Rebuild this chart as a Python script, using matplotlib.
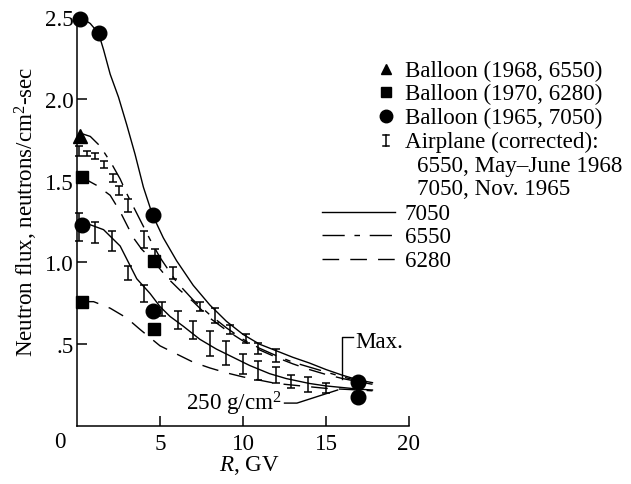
import matplotlib
matplotlib.use("Agg")
import matplotlib.pyplot as plt
from matplotlib.lines import Line2D

plt.rcParams['font.family'] = ['Liberation Serif', 'DejaVu Serif']
plt.rcParams['mathtext.fontset'] = 'custom'
plt.rcParams['mathtext.rm'] = 'Liberation Serif'
plt.rcParams['mathtext.it'] = 'Liberation Serif:italic'

# ---------------- data ----------------
# Curves: upper group = "Max.", lower group = 250 g/cm2
x7050_max = [0.2, 0.8, 1.3, 1.6, 2.0, 2.5, 3.0, 3.5, 4.0, 4.55, 5.2, 6.0, 7.0, 8.0, 9.0, 10.0, 11.0, 12.0, 13.0, 14.0, 15.0, 16.0, 17.0, 17.8]
y7050_max = [2.50, 2.46, 2.40, 2.30, 2.15, 2.01, 1.84, 1.66, 1.46, 1.29, 1.15, 1.01, 0.86, 0.74, 0.64, 0.56, 0.50, 0.46, 0.42, 0.385, 0.345, 0.31, 0.28, 0.265]

x6550_max = [0.2, 0.8, 1.4, 2.1, 2.6, 3.0, 3.7, 4.4, 5.0, 6.0, 7.0, 8.0, 9.0, 10.0, 11.0, 12.0, 13.0, 14.0, 15.0, 16.0, 17.0, 17.8]
y6550_max = [1.79, 1.77, 1.71, 1.60, 1.51, 1.42, 1.28, 1.14, 1.03, 0.88, 0.77, 0.68, 0.60, 0.53, 0.475, 0.43, 0.39, 0.36, 0.33, 0.30, 0.275, 0.26]

x6280_max = [0.3, 1.2, 2.0, 2.6, 3.4, 3.9, 4.6, 5.4, 6.2, 7.0, 8.0, 9.0, 10.0, 11.0, 12.0, 13.0, 14.0, 15.0, 16.0, 17.0, 17.8]
y6280_max = [1.52, 1.47, 1.41, 1.31, 1.15, 1.08, 1.01, 0.91, 0.83, 0.76, 0.66, 0.585, 0.52, 0.465, 0.42, 0.38, 0.345, 0.315, 0.29, 0.27, 0.255]

x7050_250 = [0.3, 0.8, 1.6, 2.6, 3.1, 3.6, 4.4, 5.0, 5.6, 6.4, 7.4, 8.4, 9.4, 10.4, 11.6, 12.6, 14.0, 15.0, 16.0, 17.0, 17.8]
y7050_250 = [1.23, 1.23, 1.20, 1.10, 1.00, 0.90, 0.81, 0.73, 0.67, 0.61, 0.53, 0.47, 0.42, 0.37, 0.32, 0.29, 0.26, 0.245, 0.235, 0.225, 0.22]

x6280_250 = [0.3, 1.0, 2.0, 3.0, 3.8, 5.0, 6.0, 7.0, 8.0, 9.0, 10.0, 11.0, 12.0, 13.0, 14.0, 15.0, 16.0, 17.0, 17.8]
y6280_250 = [0.76, 0.76, 0.72, 0.66, 0.59, 0.49, 0.44, 0.39, 0.355, 0.325, 0.30, 0.28, 0.26, 0.25, 0.24, 0.23, 0.225, 0.22, 0.215]

# Balloon points
tri_x = [0.2]
tri_y = [1.77]
sq_x = [0.3, 4.65, 0.3, 4.65]
sq_y = [1.52, 1.01, 0.76, 0.59]
circ_x = [0.2, 1.3, 4.55, 0.3, 4.55, 16.9, 16.9]
circ_y = [2.49, 2.40, 1.29, 1.23, 0.70, 0.27, 0.18]

# Airplane (corrected) error bars: 6550, May-June 1968
air68_x = [0.15, 0.6, 1.1, 1.6, 2.15, 2.55, 3.05, 4.05, 4.7, 5.8, 7.4, 8.3, 9.2, 10.2, 10.9, 12.0]
air68_lo = [1.65, 1.65, 1.63, 1.58, 1.49, 1.41, 1.31, 1.09, 1.00, 0.90, 0.70, 0.63, 0.56, 0.51, 0.44, 0.39]
air68_hi = [1.71, 1.68, 1.67, 1.62, 1.54, 1.47, 1.39, 1.19, 1.08, 0.97, 0.76, 0.72, 0.62, 0.56, 0.51, 0.47]
# 7050, Nov. 1965
air65_x = [0.15, 1.1, 2.1, 3.05, 4.05, 5.1, 6.1, 7.0, 8.0, 9.0, 10.0, 10.9, 12.0, 12.9, 13.9, 15.0]
air65_lo = [1.13, 1.12, 1.07, 0.89, 0.76, 0.67, 0.59, 0.53, 0.43, 0.37, 0.32, 0.28, 0.26, 0.23, 0.21, 0.20]
air65_hi = [1.30, 1.25, 1.19, 0.98, 0.86, 0.76, 0.70, 0.64, 0.58, 0.52, 0.44, 0.40, 0.36, 0.31, 0.30, 0.26]

xticks = [5, 10, 15, 20]
yticks = [0.5, 1.0, 1.5, 2.0, 2.5]
yticklabels = ['.5', '1.0', '1.5', '2.0', '2.5']

# ---------------- figure ----------------
W, H = 631, 485
fig = plt.figure(figsize=(W / 100, H / 100), dpi=100)

def fx(px):
    return px / W

def fy(py):
    return 1 - py / H

ax = fig.add_axes([fx(77), fy(427), fx(409) - fx(77), fy(18) - fy(427)])
ax.set_xlim(0, 20)
ax.set_ylim(0, 2.5)
for s in ['top', 'right']:
    ax.spines[s].set_visible(False)
for s in ['left', 'bottom']:
    ax.spines[s].set_linewidth(1.1)

FS = 16.6
ax.set_xticks(xticks)
ax.set_xticklabels([str(t) for t in xticks], fontsize=FS)
ax.set_yticks(yticks)
ax.set_yticklabels(yticklabels, fontsize=FS)
ax.tick_params(axis='both', direction='in', length=7, width=1.1)
ax.tick_params(axis='x', pad=5)
ax.tick_params(axis='y', pad=2)

lw = 1.0
dash_6280 = (12, 8)
dash_6550 = (16, 7, 4, 7)

ax.plot(x7050_max, y7050_max, color='black', lw=lw, solid_joinstyle='round')
ax.plot(x6550_max, y6550_max, color='black', lw=lw, dashes=dash_6550)
ax.plot(x6280_max, y6280_max, color='black', lw=lw, dashes=dash_6280)
ax.plot(x7050_250, y7050_250, color='black', lw=lw, solid_joinstyle='round')
ax.plot(x6280_250, y6280_250, color='black', lw=lw, dashes=dash_6280)

ax.errorbar(air68_x, [(a + b) / 2 for a, b in zip(air68_lo, air68_hi)],
            yerr=[[(b - a) / 2 for a, b in zip(air68_lo, air68_hi)]] * 2,
            fmt='none', ecolor='black', elinewidth=1.1, capsize=3.2, capthick=1.1, clip_on=False)
ax.errorbar(air65_x, [(a + b) / 2 for a, b in zip(air65_lo, air65_hi)],
            yerr=[[(b - a) / 2 for a, b in zip(air65_lo, air65_hi)]] * 2,
            fmt='none', ecolor='black', elinewidth=1.1, capsize=3.2, capthick=1.1, clip_on=False)

ax.plot(tri_x, tri_y, linestyle='none', marker='^', ms=10, color='black', clip_on=False, zorder=5)
ax.plot(sq_x, sq_y, linestyle='none', marker='s', ms=9, color='black', clip_on=False, zorder=5)
ax.plot(circ_x, circ_y, linestyle='none', marker='o', ms=10.5, color='black', clip_on=False, zorder=5)

# annotations
ax.plot([15.96, 15.96, 16.6], [0.287, 0.545, 0.545], color='black', lw=1.0, clip_on=False)
ax.text(16.75, 0.515, 'Max.', fontsize=FS, va='center', ha='left')
ax.plot([12.5, 13.25, 15.7], [0.14, 0.14, 0.22], color='black', lw=1.0, clip_on=False)
ax.text(12.35, 0.14, '250 g/cm$^2$', fontsize=FS, va='center', ha='right')

# axis labels
fig.text(fx(60), fy(443), '0', fontsize=FS, ha='center', va='center')
fig.text(fx(249), fy(466), '$R$, GV', fontsize=FS, ha='center', va='center')
fig.text(fx(26), fy(212), 'Neutron flux, neutrons/cm$^2$-sec', fontsize=FS,
         ha='center', va='center', rotation=90)

# legend (manual)
leg_x_text = 405
rows = [
    ('Balloon (1968, 6550)', 77),
    ('Balloon (1970, 6280)', 100),
    ('Balloon (1965, 7050)', 124),
    ('Airplane (corrected):', 148),
]
for t, yb in rows:
    fig.text(fx(leg_x_text), fy(yb), t, fontsize=FS, ha='left', va='baseline')
fig.text(fx(417), fy(172), '6550, May\u2013June 1968', fontsize=FS, ha='left', va='baseline')
fig.text(fx(417), fy(195), '7050, Nov. 1965', fontsize=FS, ha='left', va='baseline')

fig.add_artist(Line2D([fx(386)], [fy(70)], marker='^', ms=7.5, color='black', linestyle='none'))
fig.add_artist(Line2D([fx(386)], [fy(93)], marker='s', ms=7, color='black', linestyle='none'))
fig.add_artist(Line2D([fx(386)], [fy(117)], marker='o', ms=9, color='black', linestyle='none'))
# I-beam symbol
fig.add_artist(Line2D([fx(386), fx(386)], [fy(136), fy(147)], color='black', lw=1.1))
fig.add_artist(Line2D([fx(383), fx(389)], [fy(136), fy(136)], color='black', lw=1.1))
fig.add_artist(Line2D([fx(383), fx(389)], [fy(147), fy(147)], color='black', lw=1.1))

line_rows = [('7050', 220, None), ('6550', 243, dash_6550), ('6280', 267, dash_6280)]
for t, yb, d in line_rows:
    ly = yb - 7
    ln = Line2D([fx(322), fx(395)], [fy(ly), fy(ly)], color='black', lw=1.0)
    if d is not None:
        ln.set_dashes(d)
    fig.add_artist(ln)
    fig.text(fx(leg_x_text), fy(yb), t, fontsize=FS, ha='left', va='baseline')

fig.savefig('out.png', dpi=100)
